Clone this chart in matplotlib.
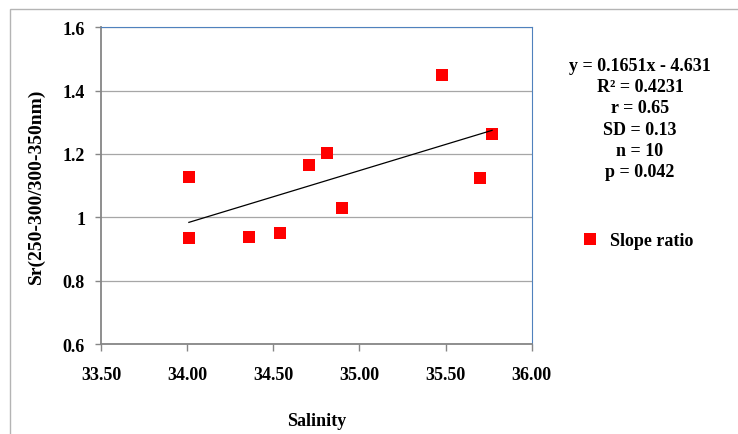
"""
Slope ratio vs salinity
-----------------------
Scatter of Sr(250-300/300-350nm) against salinity with a linear trendline.
Saves the chart as out.png.
"""

import numpy as np
import matplotlib
matplotlib.use("Agg")
import matplotlib.pyplot as plt
from matplotlib.patches import Rectangle

# Data
salinity = [34.01, 34.01, 34.36, 34.54, 34.71, 34.81, 34.90, 35.48, 35.70, 35.77]
slope_ratio = [1.126, 0.936, 0.938, 0.950, 1.165, 1.203, 1.030, 1.449, 1.123, 1.263]

# Trendline as printed on the chart
slope = 0.1651
intercept = -4.631
stats_lines = [
    "y = 0.1651x - 4.631",
    "R\u00b2 = 0.4231",
    "r = 0.65",
    "SD = 0.13",
    "n = 10",
    "p = 0.042",
]

x_ticks = [33.5, 34.0, 34.5, 35.0, 35.5, 36.0]
y_ticks = [0.6, 0.8, 1.0, 1.2, 1.4, 1.6]

plt.rcParams["font.family"] = ["Liberation Serif", "DejaVu Serif"]
plt.rcParams["font.weight"] = "bold"

AXIS_GREY = "#868686"
FONT_SIZE = 13

fig = plt.figure(figsize=(7.38, 4.35), dpi=100)

# light outer frame of the chart area (right/bottom edges fall outside the picture)
fig.patches.append(
    Rectangle((10 / 738, -0.5), 1.5, 1.5 - 10 / 435,
              transform=fig.transFigure, fill=False,
              edgecolor="#b4b4b4", linewidth=1.0)
)

ax = fig.add_axes([101 / 738, 1 - 345 / 435, (531.7 - 101) / 738, (345 - 28.3) / 435])

# gridlines
ax.set_axisbelow(True)
ax.yaxis.grid(True, color="#a6a6a6", linewidth=0.9)
ax.xaxis.grid(False)

# points
ax.plot(salinity, slope_ratio, linestyle="none", marker="s", markersize=8.6,
        color="#ff0000", markeredgewidth=0, label="Slope ratio", zorder=3)

# trendline over the data range
x_line = np.array([min(salinity), max(salinity)])
ax.plot(x_line, slope * x_line + intercept, color="black", linewidth=0.9, zorder=4)

ax.set_xlim(33.5, 36.0)
ax.set_ylim(0.6, 1.6)
ax.set_xticks(x_ticks)
ax.set_yticks(y_ticks)
ax.set_xticklabels([f"{t:.2f}" for t in x_ticks])
ax.set_yticklabels(["0.6", "0.8", "1", "1.2", "1.4", "1.6"])

for side in ["left", "bottom"]:
    ax.spines[side].set_color(AXIS_GREY)
    ax.spines[side].set_linewidth(1.3)
for side in ["top", "right"]:
    ax.spines[side].set_color("#4f81bd")
    ax.spines[side].set_linewidth(0.8)

ax.tick_params(axis="y", direction="out", length=4.5, width=1.0, color=AXIS_GREY,
               pad=7, labelsize=FONT_SIZE)
ax.tick_params(axis="x", direction="out", length=5, width=1.0, color=AXIS_GREY,
               pad=11, labelsize=FONT_SIZE)

ax.set_xlabel("Salinity", fontsize=FONT_SIZE, fontweight="bold", labelpad=21)
ax.set_ylabel("Sr(250-300/300-350nm)", fontsize=14, fontweight="bold", labelpad=13)

# statistics block
fig.text(640 / 738, 1 - 119.5 / 435, "\n".join(stats_lines), ha="center", va="center",
         fontsize=FONT_SIZE, fontweight="bold", linespacing=1.31)

# legend
ax.legend(loc="center left", bbox_to_anchor=(581 / 738, 1 - 242 / 435),
          bbox_transform=fig.transFigure, frameon=False, fontsize=FONT_SIZE,
          handlelength=1.0, handletextpad=0.6, borderpad=0, borderaxespad=0)

fig.savefig("out.png", dpi=100)
